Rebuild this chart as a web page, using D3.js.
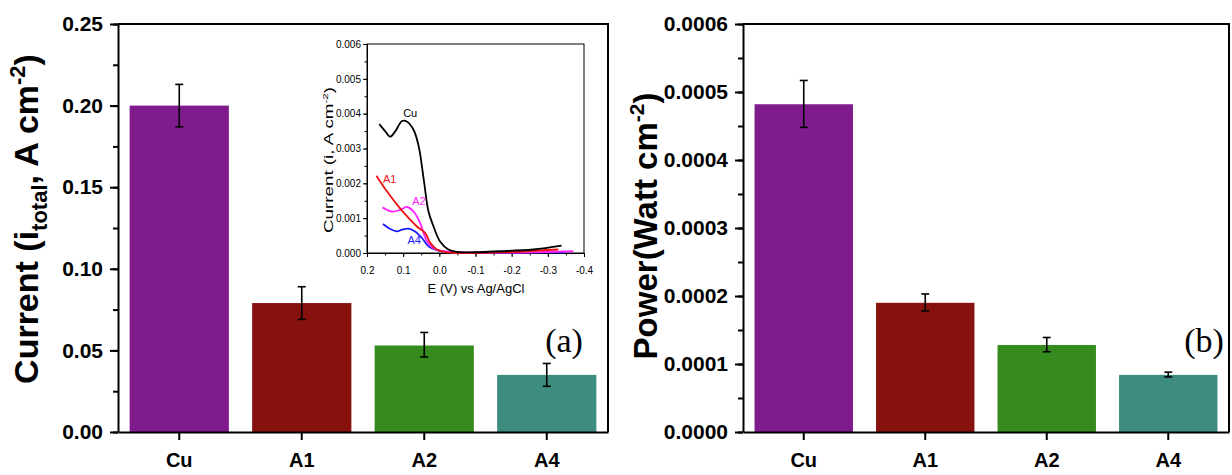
<!DOCTYPE html>
<html>
<head>
<meta charset="utf-8">
<script src="https://cdn.jsdelivr.net/npm/d3@7"></script>
<style>
  body { margin: 0; background: #fff; }
  svg { display: block; }
  .main text { font-family: "Liberation Sans", Arial, sans-serif; font-weight: bold; }
  .inset text { font-family: "Liberation Sans", Arial, sans-serif; }
</style>
</head>
<body>
<script>
// categories and bar values
var samples = ["Cu", "A1", "A2", "A4"];
var currentVals = [0.200, 0.079, 0.053, 0.035];
var currentErrLo = [0.187, 0.069, 0.046, 0.028];
var currentErrHi = [0.213, 0.089, 0.061, 0.042];
var powerVals = [0.000482, 0.000190, 0.000128, 0.000084];
var powerErrLo = [0.000448, 0.000178, 0.000118, 0.000081];
var powerErrHi = [0.000517, 0.000203, 0.000139, 0.000088];
var barColors = ["#7F1B8C", "#87110D", "#368B1E", "#3E8B80"];

// inset polarisation curves: E (V) vs current (A cm-2)
var insetNames = ["Cu", "A1", "A2", "A4"];
var insetColors = ["#000000", "#ee1111", "#ff22ff", "#1a1aff"];
var cuE = [0.166, 0.150, 0.136, 0.122, 0.103, 0.089, 0.071, 0.057, 0.043, 0.030, 0.016, -0.002, -0.025, -0.048, -0.076, -0.168, -0.260, -0.338];
var cuI = [0.00370, 0.00350, 0.00334, 0.00349, 0.00379, 0.00377, 0.00353, 0.00306, 0.00210, 0.00119, 0.00076, 0.00033, 0.00010, 0.00003, 0.00002, 0.00005, 0.00010, 0.00021];
var a1E = [0.174, 0.145, 0.117, 0.089, 0.062, 0.039, 0.025, 0.007, -0.021, -0.168, -0.329];
var a1I = [0.00222, 0.00177, 0.00139, 0.00105, 0.00076, 0.00057, 0.00029, 0.00010, 0.00002, 0.00002, 0.00010];
var a2E = [0.157, 0.131, 0.108, 0.090, 0.071, 0.053, 0.034, 0.016, -0.012, -0.076, -0.260, -0.371];
var a2I = [0.00131, 0.00119, 0.00124, 0.00132, 0.00119, 0.00086, 0.00033, 0.00014, 0.00005, 0.00002, 0.00002, 0.00005];
var a4E = [0.156, 0.136, 0.117, 0.103, 0.085, 0.067, 0.048, 0.030, 0.007, -0.030, -0.260, -0.348];
var a4I = [0.00083, 0.00069, 0.00062, 0.00067, 0.00070, 0.00062, 0.00043, 0.00019, 0.00008, 0.00002, 0.00002, 0.00002];
var labelE = [0.100, 0.156, 0.075, 0.088];
var labelI = [0.0039, 0.00200, 0.00137, 0.00025];

var width = 1232, height = 475;
var svg = d3.select("body").append("svg")
    .attr("width", width)
    .attr("height", height);

function barPanel(opt) {
    var g = svg.append("g").attr("class", "main");
    var x = d3.scaleBand().domain(samples).range([opt.x0, opt.x1]).paddingInner(0.19).paddingOuter(0.095);
    var y = d3.scaleLinear().domain([0, opt.ymax]).range([432, 24]);

    g.selectAll("rect.bar")
        .data(samples)
        .enter()
        .append("rect")
        .attr("class", "bar")
        .attr("x", function(d) { return x(d); })
        .attr("width", x.bandwidth())
        .attr("y", function(d, i) { return y(opt.vals[i]); })
        .attr("height", function(d, i) { return y(0) - y(opt.vals[i]); })
        .attr("fill", function(d, i) { return barColors[i]; });

    // error bars
    var eb = g.selectAll("g.err").data(samples).enter().append("g")
        .attr("stroke", "#000").attr("stroke-width", 1.6);
    eb.append("line")
        .attr("x1", function(d) { return x(d) + x.bandwidth() / 2; })
        .attr("x2", function(d) { return x(d) + x.bandwidth() / 2; })
        .attr("y1", function(d, i) { return y(opt.lo[i]); })
        .attr("y2", function(d, i) { return y(opt.hi[i]); });
    [opt.lo, opt.hi].forEach(function(arr) {
        eb.append("line")
            .attr("x1", function(d) { return x(d) + x.bandwidth() / 2 - 4; })
            .attr("x2", function(d) { return x(d) + x.bandwidth() / 2 + 4; })
            .attr("y1", function(d, i) { return y(arr[i]); })
            .attr("y2", function(d, i) { return y(arr[i]); });
    });

    // minor ticks, then major ticks
    g.append("g").attr("transform", "translate(" + opt.x0 + ",0)")
        .call(d3.axisLeft(y).tickValues(d3.range(0, opt.ymax + 1e-12, opt.step / 2)).tickSize(5).tickSizeOuter(0).tickFormat(""))
        .call(function(a) { a.selectAll("line").attr("stroke-width", 2); a.select(".domain").remove(); });
    var ya = g.append("g").attr("transform", "translate(" + opt.x0 + ",0)")
        .call(d3.axisLeft(y).tickValues(d3.range(0, opt.ymax + 1e-12, opt.step)).tickSize(8).tickSizeOuter(0).tickPadding(opt.pad).tickFormat(d3.format(opt.fmt)));
    ya.selectAll("line").attr("stroke-width", 2);
    ya.select(".domain").attr("stroke-width", 2);
    ya.selectAll("text").attr("font-size", 21).attr("fill", "#000");

    var xa = g.append("g").attr("transform", "translate(0,432)")
        .call(d3.axisBottom(x).tickSize(8).tickSizeOuter(0).tickPadding(13));
    xa.selectAll("line").attr("stroke-width", 2);
    xa.select(".domain").attr("stroke-width", 2);
    xa.selectAll("text").attr("font-size", 20).attr("fill", "#000");

    // frame top and right
    g.append("path")
        .attr("d", "M" + opt.x0 + ",24H" + opt.x1 + "V432")
        .attr("fill", "none").attr("stroke", "#000").attr("stroke-width", 2);

    g.append("text")
        .attr("x", opt.tagX).attr("y", 352)
        .attr("text-anchor", "middle")
        .attr("font-size", 34)
        .style("font-family", "'Liberation Serif', 'Times New Roman', serif")
        .style("font-weight", "normal")
        .text(opt.tag);
    return g;
}

var left = barPanel({ x0: 118, x1: 608, ymax: 0.25, step: 0.05, fmt: ".2f", pad: 7,
    vals: currentVals, lo: currentErrLo, hi: currentErrHi, tagX: 564, tag: "(a)" });
var right = barPanel({ x0: 743, x1: 1229, ymax: 0.0006, step: 0.0001, fmt: ".4f", pad: 7,
    vals: powerVals, lo: powerErrLo, hi: powerErrHi, tagX: 1204, tag: "(b)" });

// y axis titles
var t1 = left.append("text")
    .attr("transform", "translate(38,219) rotate(-90)")
    .attr("text-anchor", "middle")
    .attr("font-size", 34);
t1.append("tspan").text("Current (i");
t1.append("tspan").attr("dy", 9).attr("font-size", 22).text("total");
t1.append("tspan").attr("dy", -9).text(", A cm");
t1.append("tspan").attr("dy", -13).attr("font-size", 22).text("-2");
t1.append("tspan").attr("dy", 13).text(")");

var t2 = right.append("text")
    .attr("transform", "translate(657,226) rotate(-90)")
    .attr("text-anchor", "middle")
    .attr("font-size", 33);
t2.append("tspan").text("Power(Watt cm");
t2.append("tspan").attr("dy", -13).attr("font-size", 21).text("-2");
t2.append("tspan").attr("dy", 13).text(")");

// inset
var inset = svg.append("g").attr("class", "inset");
var ix = d3.scaleLinear().domain([0.2, -0.4]).range([367, 584]);
var iy = d3.scaleLinear().domain([0, 0.006]).range([253, 44]);

inset.append("rect").attr("x", 367).attr("y", 44).attr("width", 217).attr("height", 209)
    .attr("fill", "#fff").attr("stroke", "#000").attr("stroke-width", 1);

var iyMinor = inset.append("g").attr("transform", "translate(367,0)")
    .call(d3.axisLeft(iy).tickValues(d3.range(0, 0.0060001, 0.0005)).tickSize(2.5).tickFormat(""));
iyMinor.select(".domain").remove();
var iya = inset.append("g").attr("transform", "translate(367,0)")
    .call(d3.axisLeft(iy).tickValues(d3.range(0, 0.0060001, 0.001)).tickSize(4).tickSizeOuter(0).tickPadding(2).tickFormat(d3.format(".3f")));
iya.selectAll("text").attr("font-size", 10).attr("fill", "#000");
var ixMinor = inset.append("g").attr("transform", "translate(0,253)")
    .call(d3.axisBottom(ix).tickValues(d3.range(-0.4, 0.20001, 0.05)).tickSize(2.5).tickFormat(""));
ixMinor.select(".domain").remove();
var ixa = inset.append("g").attr("transform", "translate(0,253)")
    .call(d3.axisBottom(ix).tickValues([0.2, 0.1, 0, -0.1, -0.2, -0.3, -0.4]).tickSize(4).tickSizeOuter(0).tickPadding(10)
        .tickFormat(function(d) { return d.toFixed(1); }));
ixa.selectAll("text").attr("font-size", 10).attr("fill", "#000");

var curves = [[cuE, cuI], [a1E, a1I], [a2E, a2I], [a4E, a4I]];
var line = d3.line()
    .x(function(d) { return ix(d[0]); })
    .y(function(d) { return iy(d[1]); })
    .curve(d3.curveCatmullRom);
// draw so that black ends up on top like the reference
[3, 2, 1, 0].forEach(function(k) {
    inset.append("path")
        .datum(d3.zip(curves[k][0], curves[k][1]))
        .attr("d", line)
        .attr("fill", "none")
        .attr("stroke", insetColors[k])
        .attr("stroke-width", 1.8);
});

inset.selectAll("text.lab")
    .data(insetNames)
    .enter()
    .append("text")
    .attr("class", "lab")
    .attr("x", function(d, i) { return ix(labelE[i]); })
    .attr("y", function(d, i) { return iy(labelI[i]); })
    .attr("font-size", 11)
    .attr("fill", function(d, i) { return insetColors[i]; })
    .text(function(d) { return d; });

inset.append("text")
    .attr("x", 476).attr("y", 293)
    .attr("text-anchor", "middle")
    .attr("font-size", 13)
    .text("E (V) vs Ag/AgCl");

var it = inset.append("text")
    .attr("text-anchor", "middle")
    .attr("font-size", 13);
it.append("tspan").text("Current (i, A cm");
it.append("tspan").attr("dy", -5).attr("font-size", 8).text("-2");
it.append("tspan").attr("dy", 5).text(")");
// the reference title is drawn long and narrow, stretch it along its run
var itLen = it.node().getComputedTextLength();
it.attr("transform", "translate(333,160) rotate(-90) scale(" + (146 / itLen) + ",1)");
</script>
</body>
</html>
